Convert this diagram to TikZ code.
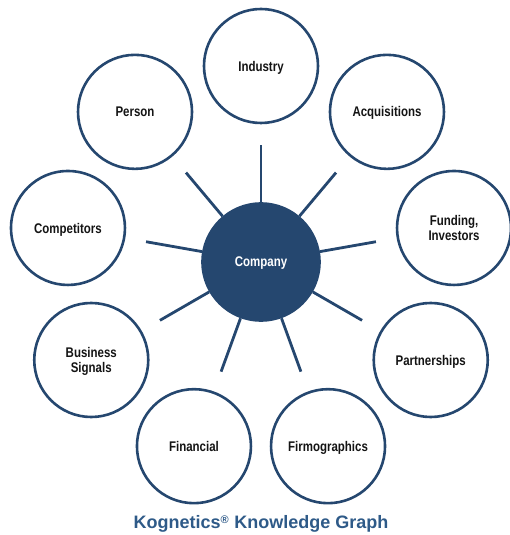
\documentclass[tikz,border=0pt]{standalone}
\usepackage{fontspec}
\setmainfont{Liberation Sans}
\newfontfamily\kgnarrow{Liberation Sans}[FakeStretch=0.82]
\definecolor{kgNavy}{HTML}{25476F}
\definecolor{kgTitle}{HTML}{2E5A88}
\definecolor{kgInk}{HTML}{141414}

\begin{document}
\begin{tikzpicture}[x=1pt,y=1pt,
                    line width=2.6pt,
                    hub/.style={circle,draw=kgNavy,fill=kgNavy,text=white,
                                minimum size=117pt,inner sep=0pt,text depth=0pt},
                    topic/.style={circle,draw=kgNavy,fill=white,text=kgInk,
                                  minimum size=114pt,inner sep=0pt,align=center,
                                  text depth=0pt},
                    spoke/.style={draw=kgNavy,line width=2.8pt,shorten >=21pt},
                    every node/.style={font=\kgnarrow\fontsize{14}{14.5}\selectfont\bfseries}]
  \useasboundingbox (-261,-273) rectangle (249,262);
  \node[hub] (company) at (0,0) {Company};
  \foreach \name/\label [count=\i] in {industry/Industry,
                                       acquisitions/Acquisitions,
                                       funding/{Funding,\\Investors},
                                       partnerships/Partnerships,
                                       firmographics/Firmographics,
                                       financial/Financial,
                                       signals/{Business\\Signals},
                                       competitors/Competitors,
                                       person/Person} {
    \node[topic] (\name) at ({130-40*\i}:196) {\label};
    \draw[spoke] (company) -- (\name);
  }
  \node[text=kgTitle,font=\fontsize{18}{20}\selectfont\bfseries] (title) at (0,-262)
    {Kognetics\textsuperscript{\fontsize{11}{11}\selectfont\raisebox{-1pt}{®}} Knowledge Graph};
\end{tikzpicture}
\end{document}
